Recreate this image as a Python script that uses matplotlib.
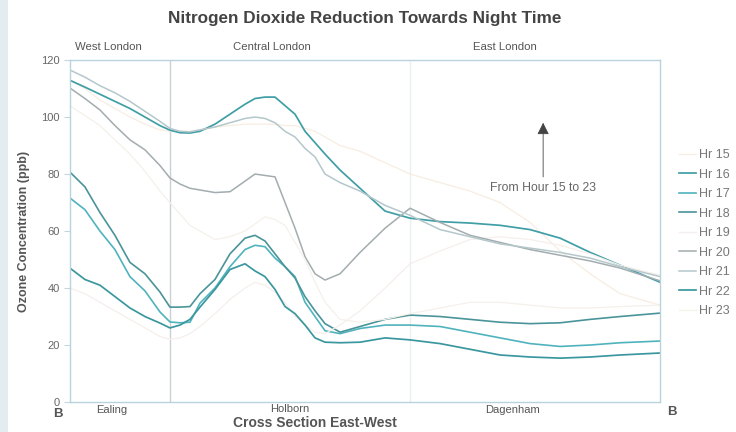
import matplotlib
matplotlib.use('Agg')
import matplotlib.pyplot as plt
from matplotlib.patches import Rectangle

plt.rcParams['font.family'] = ['Liberation Sans', 'DejaVu Sans']

# distance along the cross section (arbitrary units, west -> east)
dist = [0, 1.5, 3, 4.5, 6, 7.5, 9, 10, 11, 12, 13, 14.5, 16, 17.5, 18.5, 19.5, 20.5,
        21.5, 22.5, 23.5, 24.5, 25.5, 27, 29, 31.5, 34, 37, 40, 43, 46, 49, 52, 55, 59]

hr15 = [113, 110, 106, 103, 100, 97.5, 95.5, 95, 95, 95, 95.5, 96.5, 97, 97.5, 97.5, 97.5, 97.5,
        97, 97, 96, 95, 93, 90, 88, 84, 80, 77, 74, 70, 63, 53, 45, 38, 34]
hr16 = [112.9, 110.5, 108, 105.5, 103, 100, 97, 95.4, 94.5, 94.4, 95, 97.5, 101, 104.5, 106.5, 107, 107,
        104, 101, 95, 91, 87, 81.4, 75, 67, 64.5, 63.3, 62.8, 62, 60.5, 57.5, 52.5, 48, 42]
hr17 = [71.6, 67.5, 60, 53.5, 44, 39, 31.6, 28.1, 27.8, 28, 34.7, 40, 47.5, 53.5, 55, 54.5, 50.5,
        47.5, 44, 35, 30, 25, 24, 25.8, 27, 27, 26.5, 24.5, 22.5, 20.5, 19.5, 20, 20.8, 21.4]
hr18 = [80.7, 75.5, 66.5, 58.5, 49, 45, 38.6, 33.3, 33.3, 33.5, 38, 43, 52, 57.5, 58.5, 56.5, 52,
        47.5, 43.5, 37, 32, 27.5, 24.5, 26.5, 29, 30.5, 30, 29, 28, 27.5, 27.8, 29, 30, 31.2]
hr19 = [40, 38, 35, 32, 29, 26, 23, 22, 22.5, 24, 26.5, 31, 36, 40, 42, 41, 38.5,
        35, 30, 27, 24.5, 24, 27, 32, 40, 48.5, 53, 57, 58, 57, 55, 52, 48, 44.5]
hr20 = [110.2, 106.5, 102.5, 97, 92, 88.5, 83, 78.6, 76.5, 75, 74.4, 73.5, 73.8, 77.5, 80, 79.5, 79,
        70, 61, 51, 45, 42.8, 45, 52.5, 61, 68, 63, 58.5, 56, 53.5, 51.5, 49.5, 47, 42.5]
hr21 = [116.5, 114, 111, 108.5, 105.5, 102, 98.5, 96, 95, 94.8, 95.5, 96.5, 98, 99.5, 100, 99.5, 98,
        95, 93, 89, 86, 80, 77, 74, 69, 65.5, 60.5, 58, 55.5, 54, 52.5, 50.5, 47.5, 44]
hr22 = [47, 43, 41, 37, 33, 30, 27.7, 26, 27, 29, 33.3, 39.5, 46.5, 48.5, 46, 44, 39.5,
        33.5, 31, 27, 22.5, 21, 20.8, 21, 22.5, 21.8, 20.5, 18.5, 16.5, 15.8, 15.4, 15.8, 16.5, 17.2]
hr23 = [104, 100.5, 97, 92, 87, 81, 74, 70, 66, 62, 60, 57, 58, 60, 62.5, 65, 64,
        62, 56, 50, 42, 35, 29, 28, 29, 31, 33, 35, 35, 34, 33, 33, 33.5, 34]

series = [('Hr 15', hr15, '#f7ede2', 0.9),
          ('Hr 16', hr16, '#3f9ea6', 1.25),
          ('Hr 17', hr17, '#4fb3bd', 1.2),
          ('Hr 18', hr18, '#4a9499', 1.2),
          ('Hr 19', hr19, '#f6efec', 0.9),
          ('Hr 20', hr20, '#a3acaf', 1.1),
          ('Hr 21', hr21, '#b4c7cb', 1.1),
          ('Hr 22', hr22, '#3a979e', 1.25),
          ('Hr 23', hr23, '#f5f1ea', 0.9)]

fig = plt.figure(figsize=(7.36, 4.32), dpi=100)
fig.patch.set_facecolor('white')
fig.patches.append(Rectangle((0, 0), 8 / 736, 1, transform=fig.transFigure, facecolor='#e3ecf0',
                             edgecolor='none', zorder=0))

ax = fig.add_axes([0.095, 0.0694, 0.802, 0.7916])
for label, vals, col, lw in series:
    ax.plot(dist, vals, color=col, lw=lw, label=label)

# borough boundaries
ax.axvline(10, color='#c9d1d5', lw=1.0, zorder=0)
ax.axvline(34, color='#eaf0f2', lw=1.0, zorder=0)

ax.set_xlim(0, 59)
ax.set_ylim(0, 120)
ax.set_yticks([0, 20, 40, 60, 80, 100, 120])
ax.set_xticks([])
ax.tick_params(axis='y', colors='#c5d6dc', labelcolor='#666666', labelsize=8, length=4, width=0.8)
for s in ax.spines.values():
    s.set_color('#b9d3dc')
    s.set_linewidth(1.0)

ax.set_ylabel('Ozone Concentration (ppb)', fontsize=9, fontweight='bold', color='#555555', labelpad=8)

fig.text(365 / 736, 1 - 18 / 432, 'Nitrogen Dioxide Reduction Towards Night Time', ha='center', va='center',
         fontsize=12.3, fontweight='bold', color='#444444')
for txt, px in [('West London', 108), ('Central London', 272), ('East London', 505)]:
    fig.text(px / 736, 1 - 47 / 432, txt, ha='center', va='center', fontsize=8.2, color='#555555')
for txt, px, py in [('Ealing', 112, 410), ('Holborn', 290, 409), ('Dagenham', 512, 410)]:
    fig.text(px / 736, 1 - py / 432, txt, ha='center', va='center', fontsize=8, color='#555555')
fig.text(58 / 736, 1 - 414 / 432, 'B', ha='center', va='center', fontsize=9.5, fontweight='bold', color='#555555')
fig.text(672 / 736, 1 - 412 / 432, 'B', ha='center', va='center', fontsize=9.5, fontweight='bold', color='#555555')
fig.text(315 / 736, 1 - 423 / 432, 'Cross Section East-West', ha='center', va='center', fontsize=10,
         fontweight='bold', color='#555555')

# arrow note
ax.annotate('', xy=(47.3, 98), xytext=(47.3, 79), arrowprops=dict(arrowstyle='-|>', color='#444444',
            lw=0.6, mutation_scale=18, shrinkA=0, shrinkB=0))
ax.text(47.3, 75, 'From Hour 15 to 23', ha='center', va='center', fontsize=8.8, color='#666666')

fig.legend(loc='upper left', bbox_to_anchor=(673 / 736, 1 - 143 / 432), frameon=False, fontsize=9,
           labelcolor='#777777', handlelength=1.35, handletextpad=0.2, labelspacing=0.6, borderpad=0)

fig.savefig('out.png', dpi=100)
